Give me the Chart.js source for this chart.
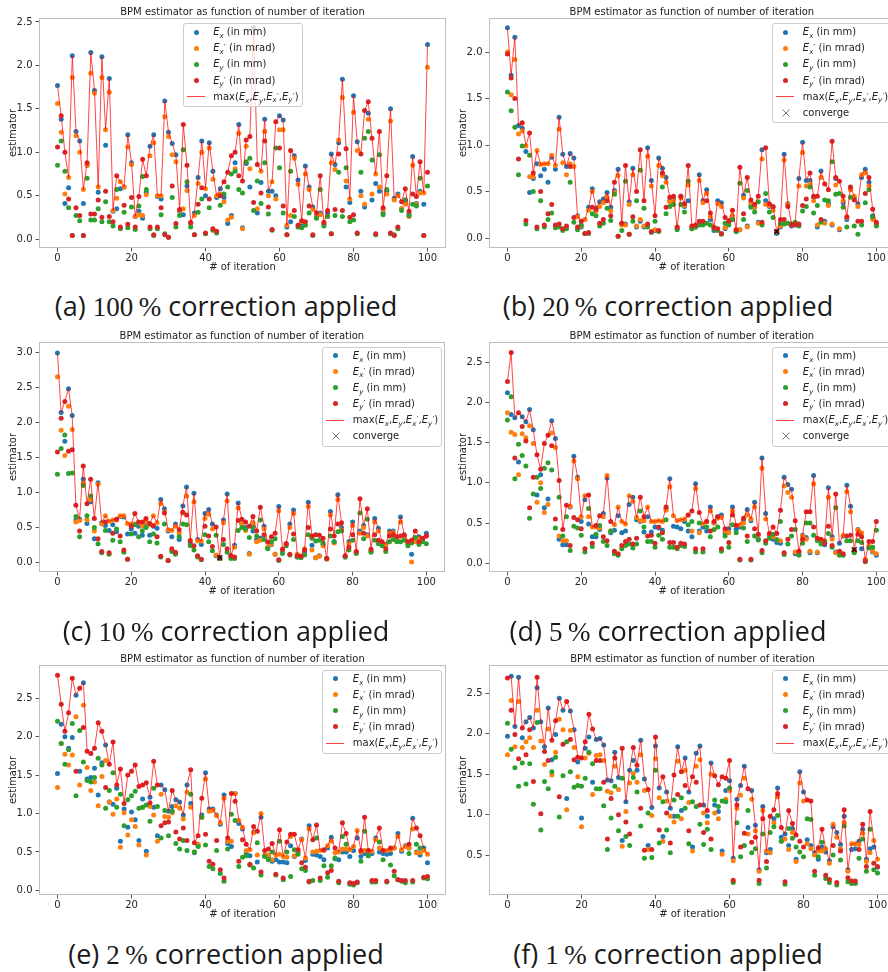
<!DOCTYPE html>
<html>
<head>
<meta charset="utf-8">
<script src="https://cdn.jsdelivr.net/npm/chart.js@4.4.1/dist/chart.umd.min.js"></script>
<style>
  html, body { margin: 0; padding: 0; background: #fff; width: 888px; height: 972px; overflow: hidden; }
  .painel { position: absolute; width: 450px; height: 280px; }
  .leg { position: absolute; width: 120px; box-sizing: border-box; border: 1px solid #cccccc; border-radius: 3px;
         background: rgba(255,255,255,0.8); font: 10px "DejaVu Sans"; color: #222; z-index: 2; }
  .linha { position: relative; height: 16.1px; }
  .ponto { position: absolute; left: 10.2px; top: 5.5px; width: 5px; height: 5px; border-radius: 50%; }
  .traco { position: absolute; left: 3px; top: 7.5px; width: 18px; height: 1px; background: rgba(255,0,0,0.75); }
  .cruz { position: absolute; left: 9.2px; top: 4px; }
  .txt { position: absolute; left: 29.5px; top: 0; line-height: 16.1px; white-space: nowrap; }
  .txt sub { font-size: 7px; vertical-align: -2.5px; line-height: 0; }
  .txt .pr { font-size: 8px; font-style: normal; position: relative; top: -2.5px; margin-left: 0.3px; }
  .cap { position: absolute; width: 440px; height: 36px; line-height: 36px; text-align: center; white-space: nowrap;
         font: 27px "Open Sans"; color: #1a1a1a; }
  .cap .num { font-family: "Liberation Serif"; }
</style>
</head>
<body>
<script>
// Iterações (eixo x) e marcas
const iteracoes = Array.from({ length: 101 }, (_, i) => i);
const marcasX = [0, 20, 40, 60, 80, 100];
const letras = ["a", "b", "c", "d", "e", "f"];
const percentuais = [100, 20, 10, 5, 2, 1];

// (a) 100 %
const ex_a = [1.77,1.38,0.41,0.59,2.11,1.24,1.13,0.41,0.85,2.15,1.71,0.54,2.10,1.08,1.85,0.32,0.35,0.58,0.60,1.20,0.88,0.26,0.32,0.24,0.54,1.07,1.20,0.49,0.46,1.59,1.23,1.10,0.97,0.32,0.28,0.61,0.18,0.30,0.71,1.13,0.50,1.11,0.78,0.48,0.58,0.48,0.18,0.27,0.88,1.32,0.13,0.87,0.60,2.44,0.30,0.65,1.38,0.55,0.55,0.50,1.42,1.37,0.14,0.20,0.96,0.68,0.18,0.84,0.60,0.37,0.26,0.30,0.17,0.30,0.98,0.86,1.11,1.84,0.60,0.42,1.65,1.12,0.55,0.37,1.45,0.45,0.64,0.55,0.30,0.55,1.50,0.47,0.52,0.35,0.45,0.29,0.95,0.41,0.55,0.40,2.24];
const exl_a = [1.56,1.23,0.52,0.71,1.86,1.19,1.00,0.57,0.85,1.91,1.68,0.60,1.86,1.26,1.69,0.33,0.47,0.66,0.60,1.06,0.86,0.26,0.28,0.27,0.51,0.96,1.11,0.50,0.50,1.41,1.18,0.97,0.89,0.33,0.35,0.56,0.18,0.27,0.64,1.00,0.58,1.05,0.69,0.50,0.52,0.43,0.22,0.25,0.81,1.22,0.12,1.07,0.81,2.20,0.35,0.78,1.24,0.50,0.66,0.46,1.26,1.26,0.16,0.27,0.93,0.63,0.20,0.75,0.57,0.34,0.25,0.28,0.19,0.26,0.88,0.80,1.14,1.63,0.67,0.46,1.46,1.02,0.50,0.40,1.38,0.52,0.75,0.60,0.34,0.52,1.36,0.45,0.50,0.35,0.40,0.26,0.85,0.40,0.53,0.53,1.98];
const ey_a = [0.85,1.13,0.78,0.36,0.04,0.27,0.21,0.04,0.70,0.22,0.22,0.35,0.20,0.43,0.20,0.15,0.57,0.12,0.31,0.13,0.37,0.11,0.38,0.72,0.57,0.12,0.04,0.12,0.28,0.06,0.02,0.48,0.14,0.27,1.03,0.66,0.14,0.05,0.31,0.46,0.06,0.36,0.10,0.07,0.39,0.52,0.60,0.75,0.78,0.57,0.53,0.89,0.93,0.33,0.67,0.41,0.88,0.29,0.10,1.05,0.82,0.30,0.05,0.78,0.26,0.14,0.13,0.16,0.30,0.04,0.24,0.57,0.15,0.26,0.06,0.27,0.77,0.26,0.82,0.20,0.22,0.06,0.77,1.16,1.24,0.91,0.05,0.97,0.28,0.57,0.06,0.05,0.12,0.33,0.45,0.27,0.40,0.38,0.70,0.04,0.61];
const eyl_a = [1.06,1.42,1.00,0.46,0.04,0.36,0.27,0.04,0.88,0.29,0.29,0.45,0.25,0.55,0.26,0.20,0.73,0.14,0.39,0.17,0.48,0.14,0.49,0.92,0.73,0.14,0.05,0.14,0.36,0.05,0.02,0.61,0.18,0.34,1.32,0.85,0.19,0.05,0.40,0.59,0.07,0.46,0.12,0.09,0.50,0.66,0.77,0.96,1.00,0.73,0.67,1.14,1.18,0.42,0.86,0.53,1.13,0.37,0.11,1.35,1.05,0.38,0.05,1.02,0.33,0.16,0.21,0.20,0.38,0.05,0.30,0.73,0.19,0.33,0.06,0.34,0.98,0.33,1.04,0.25,0.28,0.07,0.98,1.48,1.58,1.16,0.06,1.24,0.36,0.73,0.07,0.04,0.14,0.43,0.58,0.32,0.52,0.49,0.89,0.04,0.77];

// (b) 20 %
const ex_b = [2.26,1.75,2.16,1.21,1.18,0.93,0.49,0.64,0.80,0.67,0.74,0.60,0.87,0.74,1.30,0.90,0.77,0.91,0.86,0.24,0.12,0.20,0.33,0.53,0.32,0.39,0.42,0.49,0.33,0.51,0.74,0.15,0.15,0.39,0.75,0.12,0.18,0.12,0.97,0.62,0.08,0.86,0.75,0.65,0.40,0.42,0.10,0.45,0.34,0.40,0.11,0.12,0.68,0.40,0.52,0.20,0.08,0.40,0.38,0.10,0.17,0.20,0.07,0.09,0.46,0.13,0.35,0.33,0.17,0.95,0.40,0.34,0.33,0.05,0.12,0.90,0.37,0.13,0.16,0.64,1.03,0.62,0.62,0.44,0.12,0.72,0.18,0.37,0.14,0.64,0.09,0.38,0.20,0.53,0.43,0.37,0.65,0.74,0.60,0.24,0.15];
const exl_b = [2.00,1.54,1.92,1.12,1.15,0.99,0.66,0.66,0.94,0.79,0.80,0.80,0.89,0.78,1.17,0.81,0.68,0.80,0.77,0.23,0.13,0.20,0.30,0.50,0.29,0.34,0.38,0.44,0.29,0.49,0.67,0.14,0.14,0.36,0.68,0.13,0.20,0.13,0.88,0.56,0.09,0.78,0.67,0.60,0.39,0.40,0.11,0.43,0.35,0.57,0.10,0.13,0.62,0.38,0.48,0.23,0.12,0.37,0.34,0.11,0.19,0.24,0.08,0.09,0.43,0.12,0.38,0.33,0.16,0.85,0.36,0.35,0.30,0.07,0.13,0.84,0.36,0.15,0.16,0.56,0.92,0.56,0.58,0.40,0.14,0.65,0.16,0.35,0.15,0.57,0.10,0.40,0.22,0.52,0.45,0.34,0.68,0.70,0.56,0.20,0.14];
const ey_b = [1.57,1.37,1.19,0.68,0.99,0.15,0.89,0.50,0.10,0.40,0.12,0.20,0.27,0.11,0.12,0.08,0.10,0.60,0.17,0.09,0.14,0.05,0.05,0.26,0.24,0.13,0.16,0.32,0.19,0.47,0.02,0.08,0.61,0.04,0.18,0.40,0.73,0.32,0.12,0.06,0.18,0.07,0.55,0.26,0.34,0.36,0.09,0.36,0.28,0.61,0.10,0.12,0.14,0.14,0.16,0.14,0.10,0.08,0.04,0.16,0.14,0.20,0.07,0.59,0.20,0.51,0.33,0.28,0.39,0.14,0.48,0.28,0.22,0.06,0.16,0.15,0.16,0.15,0.17,0.13,0.29,0.34,0.55,0.27,0.35,0.17,0.41,0.40,0.82,0.47,0.48,0.33,0.12,0.44,0.13,0.04,0.14,0.38,0.52,0.23,0.13];
const eyl_b = [1.98,1.72,1.50,0.85,1.24,0.19,1.13,0.70,0.12,0.50,0.14,0.26,0.36,0.14,0.15,0.10,0.13,0.77,0.22,0.12,0.18,0.05,0.06,0.33,0.31,0.16,0.20,0.40,0.24,0.60,0.02,0.16,0.78,0.04,0.23,0.50,0.95,0.40,0.15,0.07,0.24,0.08,0.70,0.33,0.44,0.45,0.12,0.45,0.37,0.78,0.13,0.14,0.18,0.18,0.40,0.27,0.11,0.10,0.05,0.22,0.18,0.30,0.09,0.76,0.26,0.65,0.41,0.36,0.45,0.17,0.97,0.37,0.34,0.07,0.20,0.20,0.34,0.14,0.14,0.15,0.35,0.42,0.70,0.45,0.45,0.20,0.58,0.52,1.04,0.65,0.61,0.45,0.23,0.55,0.41,0.18,0.18,0.48,0.65,0.31,0.17];

// (c) 10 %
const ex_c = [2.99,2.14,1.73,2.48,2.10,0.61,0.62,1.19,0.56,0.87,0.34,1.14,0.57,0.53,0.46,0.54,0.44,0.66,0.65,0.41,0.48,0.42,0.52,0.39,0.52,0.39,0.52,0.49,0.90,0.77,0.45,0.37,0.55,0.33,0.81,1.08,0.27,0.99,0.33,0.26,0.70,0.76,0.55,0.10,0.07,0.61,0.98,0.10,0.25,0.85,0.55,0.50,0.13,0.45,0.33,0.35,0.52,0.21,0.26,0.12,0.80,0.18,0.27,0.55,0.75,0.08,0.08,0.16,0.86,0.25,0.07,0.10,0.26,0.06,0.73,0.30,0.97,0.50,0.08,0.30,0.58,0.14,0.45,0.53,0.40,0.16,0.63,0.49,0.28,0.26,0.45,0.45,0.33,0.65,0.38,0.27,0.12,0.33,0.37,0.33,0.42];
const exl_c = [2.65,1.89,1.53,2.23,1.90,0.58,0.60,1.13,0.61,0.90,0.45,1.12,0.55,0.67,0.59,0.61,0.61,0.67,0.67,0.56,0.55,0.55,0.57,0.52,0.58,0.54,0.67,0.57,0.84,0.72,0.47,0.46,0.52,0.42,0.71,0.95,0.32,0.87,0.31,0.31,0.63,0.69,0.48,0.11,0.06,0.57,0.88,0.09,0.22,0.78,0.55,0.46,0.12,0.57,0.30,0.32,0.48,0.22,0.27,0.12,0.74,0.17,0.26,0.50,0.70,0.12,0.08,0.20,0.80,0.18,0.07,0.09,0.24,0.05,0.68,0.28,0.90,0.47,0.09,0.27,0.53,0.15,0.42,0.50,0.38,0.17,0.58,0.45,0.26,0.25,0.42,0.43,0.31,0.58,0.36,0.28,0.01,0.30,0.34,0.31,0.38];
const ey_c = [1.26,1.63,1.82,1.27,1.28,0.66,0.37,1.10,0.67,0.95,0.50,0.27,0.14,0.46,0.12,0.32,0.48,0.30,0.15,0.05,0.41,0.54,0.37,0.45,0.50,0.30,0.41,0.28,0.08,0.55,0.03,0.16,0.12,0.37,0.55,0.54,0.24,0.18,0.08,0.04,0.40,0.30,0.17,0.39,0.06,0.26,0.15,0.06,0.06,0.46,0.50,0.48,0.36,0.51,0.38,0.61,0.33,0.20,0.30,0.34,0.03,0.13,0.24,0.11,0.33,0.08,0.07,0.11,0.40,0.35,0.31,0.32,0.28,0.06,0.38,0.30,0.44,0.45,0.08,0.18,0.32,0.13,0.71,0.34,0.62,0.15,0.32,0.27,0.24,0.16,0.30,0.33,0.30,0.30,0.32,0.24,0.28,0.36,0.26,0.30,0.27];
const eyl_c = [1.58,2.06,2.30,1.59,1.61,0.82,0.45,1.38,0.84,1.19,0.63,0.34,0.16,0.58,0.14,0.42,0.62,0.38,0.18,0.05,0.52,0.70,0.58,0.58,0.63,0.56,0.53,0.37,0.09,0.71,0.03,0.20,0.15,0.47,0.72,0.68,0.31,0.24,0.10,0.05,0.52,0.38,0.23,0.51,0.07,0.33,0.20,0.10,0.08,0.60,0.62,0.58,0.52,0.66,0.45,0.79,0.40,0.29,0.37,0.42,0.04,0.19,0.27,0.12,0.41,0.10,0.09,0.18,0.50,0.38,0.40,0.39,0.35,0.06,0.48,0.38,0.55,0.57,0.10,0.22,0.40,0.16,0.91,0.42,0.77,0.19,0.40,0.32,0.30,0.20,0.38,0.40,0.37,0.38,0.40,0.30,0.32,0.45,0.30,0.35,0.38];

// (d) 5 %
const ex_d = [2.12,1.85,1.81,1.26,1.82,1.76,1.91,1.66,0.85,1.10,0.69,0.80,1.77,1.55,0.30,0.23,0.23,0.70,1.33,1.07,0.52,0.79,0.49,0.33,0.33,0.42,0.62,1.06,0.38,0.41,0.59,0.38,0.40,0.73,0.82,0.54,0.52,0.39,0.58,0.39,0.45,0.44,0.41,0.68,1.05,0.46,0.45,0.43,0.52,0.40,0.33,0.99,0.40,0.45,0.40,0.70,0.50,0.58,0.60,0.38,0.43,0.70,0.42,0.45,0.54,0.67,0.53,0.76,0.30,1.31,0.62,0.33,0.30,0.26,0.25,1.07,0.98,0.92,0.12,0.12,0.35,0.32,0.13,1.09,0.13,0.28,0.23,0.94,0.33,0.14,0.25,0.34,0.97,0.71,0.15,0.42,0.18,0.04,0.20,0.14,0.10];
const exl_d = [1.87,1.63,1.60,1.10,1.61,1.56,1.71,1.49,0.76,1.00,0.63,0.73,1.62,1.44,0.34,0.28,0.28,0.71,1.27,1.05,0.58,0.84,0.58,0.45,0.45,0.44,0.58,1.09,0.40,0.48,0.70,0.52,0.49,0.84,0.77,0.57,0.53,0.53,0.70,0.52,0.52,0.53,0.52,0.66,0.95,0.59,0.53,0.54,0.55,0.60,0.40,0.93,0.38,0.49,0.52,0.65,0.50,0.56,0.57,0.40,0.38,0.65,0.47,0.48,0.50,0.60,0.55,0.70,0.35,1.18,0.55,0.35,0.33,0.30,0.28,0.96,0.88,0.82,0.14,0.14,0.34,0.30,0.15,0.99,0.14,0.29,0.28,0.82,0.30,0.13,0.12,0.35,0.89,0.64,0.16,0.41,0.38,0.05,0.22,0.15,0.12];
const ey_d = [1.78,2.07,1.05,1.48,1.34,1.21,0.56,0.86,1.07,0.93,1.18,1.25,1.16,0.44,0.82,0.34,0.58,0.16,0.46,0.44,0.35,0.14,0.68,0.21,0.36,0.47,0.27,0.22,0.40,0.12,0.10,0.18,0.22,0.24,0.19,0.24,0.65,0.45,0.27,0.27,0.20,0.35,0.30,0.54,0.20,0.20,0.18,0.22,0.21,0.48,0.52,0.14,0.50,0.14,0.45,0.33,0.42,0.45,0.15,0.34,0.20,0.48,0.38,0.04,0.44,0.27,0.04,0.34,0.29,0.13,0.25,0.31,0.36,0.29,0.52,0.11,0.24,0.34,0.42,0.10,0.25,0.50,0.50,0.35,0.28,0.24,0.27,0.37,0.20,0.69,0.10,0.10,0.28,0.28,0.13,0.28,0.26,0.02,0.19,0.20,0.41];
const eyl_d = [2.26,2.62,1.31,1.87,1.70,1.52,0.69,1.07,1.35,1.17,1.49,1.59,1.46,0.55,1.03,0.42,0.72,0.22,0.57,0.54,0.43,0.18,0.85,0.25,0.47,0.59,0.33,0.28,0.52,0.15,0.12,0.22,0.27,0.30,0.24,0.31,0.82,0.58,0.34,0.35,0.25,0.45,0.38,0.70,0.26,0.26,0.20,0.25,0.24,0.60,0.65,0.18,0.63,0.18,0.52,0.40,0.52,0.58,0.18,0.43,0.26,0.60,0.47,0.05,0.56,0.34,0.05,0.43,0.36,0.16,0.28,0.37,0.45,0.37,0.66,0.13,0.30,0.42,0.53,0.15,0.30,0.64,0.64,0.45,0.31,0.30,0.25,0.46,0.22,0.86,0.15,0.12,0.34,0.35,0.17,0.36,0.33,0.03,0.27,0.27,0.52];

// (e) 2 %
const ex_e = [1.52,2.16,2.00,1.85,1.99,2.54,1.55,2.70,1.45,1.47,1.59,1.24,1.66,1.89,1.15,1.12,1.33,0.64,1.06,0.82,1.02,0.92,0.65,1.19,0.51,1.21,1.08,0.71,1.37,1.31,1.03,1.09,1.18,1.15,0.98,1.37,1.13,0.49,0.58,0.98,1.53,1.06,1.06,0.98,0.86,1.24,0.61,0.57,1.26,0.87,0.80,0.48,0.45,0.76,0.37,0.95,0.45,0.44,0.38,0.40,0.37,0.37,0.36,0.58,0.44,0.50,0.67,0.39,0.84,0.47,0.46,0.44,0.40,0.55,0.69,0.41,0.40,0.50,0.50,0.44,0.52,0.68,0.44,0.48,0.45,0.48,0.68,0.50,0.48,0.47,0.48,0.55,0.74,0.51,0.58,0.55,0.94,0.50,0.46,0.55,0.36];
const exl_e = [1.34,1.91,1.77,1.63,1.76,2.26,1.37,2.41,1.60,1.30,1.41,1.10,1.48,1.69,1.15,0.99,1.19,0.56,1.01,0.72,0.92,0.83,0.59,1.08,0.46,1.09,0.98,0.64,1.25,0.96,0.95,1.01,1.10,1.07,0.93,1.28,1.08,0.50,0.60,0.95,1.45,1.03,1.04,0.97,0.88,1.20,0.64,0.64,1.26,0.91,0.82,0.52,0.53,0.75,0.46,1.00,0.46,0.46,0.40,0.46,0.47,0.44,0.43,0.70,0.45,0.51,0.66,0.42,0.80,0.50,0.51,0.52,0.52,0.58,0.64,0.49,0.50,0.54,0.54,0.53,0.57,0.78,0.50,0.52,0.52,0.51,0.66,0.55,0.52,0.52,0.53,0.55,0.70,0.53,0.57,0.55,0.80,0.49,0.49,0.52,0.47];
const ey_e = [2.20,1.91,1.64,1.83,2.17,1.23,2.08,1.67,1.43,1.41,1.47,1.72,1.63,1.07,1.30,1.53,1.08,1.25,0.84,1.18,1.23,1.29,1.07,1.08,1.11,0.90,1.33,1.09,0.68,1.04,0.71,1.03,0.61,0.54,0.65,0.52,1.25,0.50,0.57,0.95,0.59,0.31,0.28,0.52,0.22,0.12,0.54,0.99,0.91,0.31,0.43,0.45,0.33,0.29,0.62,0.20,0.44,0.40,0.50,0.20,0.64,0.14,0.50,0.18,0.53,0.47,0.28,0.26,0.11,0.13,0.68,0.13,0.32,0.17,0.32,0.42,0.10,0.70,0.60,0.08,0.07,0.10,0.38,0.77,0.45,0.11,0.11,0.63,0.40,0.11,0.33,0.19,0.14,0.12,0.10,0.48,0.11,0.60,0.55,0.16,0.15];
const eyl_e = [2.80,2.42,2.07,2.31,2.76,1.55,2.63,2.12,1.81,1.78,1.85,2.18,2.07,1.34,1.64,1.93,1.37,1.58,1.13,1.50,1.55,1.63,1.35,1.37,1.40,1.14,1.68,1.37,0.84,0.88,0.89,1.30,0.76,0.67,0.81,0.65,1.57,0.62,0.71,1.20,0.73,0.38,0.34,0.65,0.27,0.16,0.68,1.26,1.16,0.38,0.66,0.60,0.34,0.83,0.77,0.24,0.52,0.54,0.61,0.21,0.79,0.16,0.63,0.73,0.73,0.53,0.36,0.30,0.12,0.66,0.85,0.16,0.53,0.23,0.26,0.55,0.12,0.88,0.74,0.10,0.09,0.11,0.52,0.95,0.52,0.13,0.13,0.81,0.52,0.12,0.55,0.25,0.14,0.13,0.13,0.60,0.13,0.81,0.71,0.17,0.18];

// (f) 1 %
const ex_f = [1.97,2.71,2.09,2.70,1.95,2.15,2.20,2.07,2.57,2.15,1.84,2.32,1.68,1.99,2.44,2.29,1.20,2.28,2.05,1.65,0.96,1.82,1.96,1.40,1.93,1.94,1.86,1.43,1.42,1.77,1.46,0.68,1.16,1.55,1.67,1.55,1.92,1.44,0.62,1.09,1.85,1.33,0.73,1.28,1.08,0.98,1.84,1.05,1.70,1.28,0.60,1.76,1.85,1.12,0.98,1.64,1.12,1.04,0.55,1.30,1.42,0.46,1.19,1.36,1.60,0.84,1.30,0.87,0.32,1.10,0.53,0.57,0.95,1.33,0.72,0.76,0.62,0.83,0.45,1.53,1.28,0.69,0.62,0.53,0.45,0.60,0.54,0.43,0.85,0.78,0.63,0.98,0.32,0.57,0.58,0.67,0.82,0.45,0.58,0.60,0.35];
const exl_f = [1.74,2.41,1.84,2.40,1.83,1.90,1.95,1.83,2.29,1.91,1.62,2.06,1.49,1.77,2.18,2.05,1.06,2.04,1.83,1.47,0.85,1.70,1.76,1.25,1.73,1.74,1.67,1.29,1.27,1.60,1.31,0.61,1.04,1.39,1.51,1.40,1.74,1.30,0.57,0.99,1.69,1.21,0.67,1.17,0.98,0.91,1.66,0.95,1.55,1.15,0.55,1.60,1.68,1.02,0.90,1.50,1.02,0.95,0.51,1.19,1.30,0.43,1.08,1.24,1.45,0.76,1.19,0.80,0.30,1.05,0.55,0.53,0.90,1.22,0.67,0.70,0.57,0.78,0.42,1.39,1.17,0.64,0.58,0.50,0.55,0.55,0.58,0.40,0.88,0.72,0.58,0.90,0.30,0.64,0.64,0.63,0.77,0.42,0.53,0.68,0.45];
const ey_f = [2.13,1.81,1.58,1.35,1.64,1.38,1.63,1.13,2.14,0.81,1.41,1.32,1.53,1.71,0.97,1.48,1.90,1.53,1.34,1.36,1.35,1.45,1.77,1.63,1.32,1.32,1.11,0.57,0.96,1.35,0.80,1.45,0.73,0.62,1.46,1.28,0.86,0.46,1.02,0.47,1.55,0.65,1.16,0.81,0.53,1.18,0.98,1.21,1.08,0.64,1.16,1.10,0.88,0.63,0.82,0.57,1.18,1.10,1.17,1.16,1.33,0.16,0.90,0.48,0.62,1.05,0.53,0.58,0.15,0.76,0.34,0.78,0.85,0.99,0.67,0.14,0.83,0.71,0.60,0.54,0.48,0.95,0.94,0.25,0.48,0.66,0.21,0.16,0.50,0.13,0.44,0.86,0.17,0.15,0.15,0.46,0.70,0.30,0.82,0.32,0.28];
const eyl_f = [2.69,2.29,1.99,1.69,2.07,1.74,2.05,1.41,2.70,1.01,1.78,1.67,1.92,2.16,1.22,1.87,2.40,1.93,1.68,1.71,1.70,1.90,2.24,2.06,1.67,1.67,1.40,0.70,1.20,1.70,1.00,1.82,0.91,0.76,1.83,1.61,1.08,0.56,1.31,0.57,1.96,0.81,1.47,1.02,0.65,1.49,1.25,1.53,1.36,0.80,1.47,1.40,1.12,0.78,1.05,0.70,1.48,1.37,1.47,1.45,1.67,0.19,1.12,0.60,0.77,1.32,0.66,0.72,0.19,0.95,0.42,0.98,1.06,1.26,0.84,0.17,1.05,0.89,0.75,0.67,0.60,1.18,1.17,0.30,0.59,0.82,0.25,0.20,0.62,0.16,0.55,1.06,0.22,0.18,0.18,0.57,0.88,0.36,1.04,0.40,0.36];

// Iteração marcada como "converge" (quando existe)
const converge = { b: 73, c: 44, d: 94 };

// Cores padrão do matplotlib
const cores = { azul: "#1f77b4", laranja: "#ff7f0e", verde: "#2ca02c", vermelho: "#d62728", max: "rgba(255,0,0,0.72)" };

// Limites do eixo y e posição de cada painel
const paineis = [
  { id: "a", ex: ex_a, exl: exl_a, ey: ey_a, eyl: eyl_a, yMin: -0.103, yMax: 2.546, left: 0, top: 0, legX: 182.7, legY: 23.3 },
  { id: "b", ex: ex_b, exl: exl_b, ey: ey_b, eyl: eyl_b, yMin: -0.107, yMax: 2.366, left: 449.7, top: 0, legX: 772.3, legY: 23.3 },
  { id: "c", ex: ex_c, exl: exl_c, ey: ey_c, eyl: eyl_c, yMin: -0.133, yMax: 3.147, left: 0, top: 324, legX: 322.3, legY: 346.7 },
  { id: "d", ex: ex_d, exl: exl_d, ey: ey_d, eyl: eyl_d, yMin: -0.108, yMax: 2.75, left: 449.7, top: 324, legX: 772.3, legY: 346.7 },
  { id: "e", ex: ex_e, exl: exl_e, ey: ey_e, eyl: eyl_e, yMin: -0.06, yMax: 2.932, left: 0, top: 647, legX: 322.3, legY: 669.7 },
  { id: "f", ex: ex_f, exl: exl_f, ey: ey_f, eyl: eyl_f, yMin: 0.007, yMax: 2.85, left: 449.7, top: 647, legX: 772.3, legY: 669.7 }
];

Chart.defaults.font.family = "DejaVu Sans";
Chart.defaults.font.size = 10;
Chart.defaults.color = "#262626";

const pontos = (arr) => arr.map((v, i) => ({ x: iteracoes[i], y: v }));

// Moldura completa em volta da área do gráfico
const moldura = {
  id: "moldura",
  afterDraw(chart) {
    const { ctx, chartArea: a } = chart;
    ctx.save();
    ctx.strokeStyle = "#bdbdbd";
    ctx.lineWidth = 1;
    ctx.strokeRect(Math.round(a.left) + 0.5, Math.round(a.top) + 0.5, Math.round(a.right - a.left) - 1, Math.round(a.bottom - a.top) - 1);
    ctx.restore();
  }
};

// E com índice (x, y, x', y')
const sub = (t) => `<i>E</i><sub><i>${t[0]}</i>${t.length > 1 ? '<span class="pr">′</span>' : ""}</sub>`;

function criarLegenda(p, temConverge) {
  const leg = document.createElement("div");
  leg.className = "leg";
  leg.style.left = p.legX + "px";
  leg.style.top = p.legY + "px";
  const linhas = [
    ["ponto", cores.azul, `${sub("x")} (in mm)`],
    ["ponto", cores.laranja, `${sub("x'")} (in mrad)`],
    ["ponto", cores.verde, `${sub("y")} (in mm)`],
    ["ponto", cores.vermelho, `${sub("y'")} (in mrad)`],
    ["traco", null, `max(${sub("x")},${sub("y")},${sub("x'")},${sub("y'")})`]
  ];
  if (temConverge) linhas.push(["cruz", null, "converge"]);
  leg.innerHTML = linhas.map(([tipo, cor, txt]) => {
    let marca = "";
    if (tipo === "ponto") marca = `<span class="ponto" style="background:${cor}"></span>`;
    if (tipo === "traco") marca = `<span class="traco"></span>`;
    if (tipo === "cruz") marca = `<svg class="cruz" width="8" height="8"><path d="M0.5 0.5L7.5 7.5M7.5 0.5L0.5 7.5" stroke="#777" stroke-width="1"/></svg>`;
    return `<div class="linha">${marca}<span class="txt">${txt}</span></div>`;
  }).join("");
  leg.style.height = (linhas.length * 16.1 + 3.5) + "px";
  document.body.appendChild(leg);
}

function criarGrafico(p) {
  const caixa = document.createElement("div");
  caixa.className = "painel";
  caixa.style.left = p.left + "px";
  caixa.style.top = p.top + "px";
  const canvas = document.createElement("canvas");
  canvas.width = 450;
  canvas.height = 280;
  caixa.appendChild(canvas);
  document.body.appendChild(caixa);

  const maximo = iteracoes.map((i) => Math.max(p.ex[i], p.exl[i], p.ey[i], p.eyl[i]));
  const serie = (dados, cor, ordem) => ({ data: pontos(dados), backgroundColor: cor, borderWidth: 0, pointRadius: 2.5, order: ordem });

  const datasets = [
    serie(p.ex, cores.azul, 6),
    serie(p.exl, cores.laranja, 5),
    serie(p.ey, cores.verde, 4),
    serie(p.eyl, cores.vermelho, 3),
    { data: pontos(maximo), showLine: true, borderColor: cores.max, borderWidth: 1, pointRadius: 0, order: 2 }
  ];
  const k = converge[p.id];
  if (k !== undefined) {
    datasets.push({ data: [{ x: iteracoes[k], y: maximo[k] }], pointStyle: "crossRot", pointRadius: 3.5,
      borderColor: "#111", borderWidth: 1.2, order: 1 });
  }

  new Chart(canvas.getContext("2d"), {
    type: "scatter",
    data: { datasets },
    options: {
      responsive: false,
      animation: false,
      events: [],
      layout: { padding: { left: 0, right: 2.5, top: 0, bottom: 0 } },
      plugins: {
        legend: { display: false },
        tooltip: { enabled: false },
        title: { display: true, text: "BPM estimator as function of number of iteration", fullSize: false,
          padding: { top: 6, bottom: 0 }, font: { size: 10, weight: "normal" }, color: "#1a1a1a" }
      },
      scales: {
        x: {
          type: "linear", min: -5, max: 105,
          afterBuildTicks: (s) => { s.ticks = marcasX.map((v) => ({ value: v })); },
          afterFit: (s) => { s.height = 32; },
          ticks: { padding: 1, maxRotation: 0 },
          grid: { drawOnChartArea: false, tickLength: 3.5, color: "#555" },
          border: { display: false },
          title: { display: true, text: "# of iteration", padding: { top: 0, bottom: 7 } }
        },
        y: {
          type: "linear", min: p.yMin, max: p.yMax,
          afterFit: (s) => { s.width = 39; },
          ticks: { stepSize: 0.5, includeBounds: false, padding: 3, callback: (v) => v.toFixed(1) },
          grid: { drawOnChartArea: false, tickLength: 3.5, color: "#555" },
          border: { display: false },
          title: { display: true, text: "estimator", padding: { top: 7, bottom: 0 } }
        }
      }
    },
    plugins: [moldura]
  });

  criarLegenda(p, k !== undefined);
}

paineis.forEach(criarGrafico);

// Legendas das figuras
const centrosX = [226, 668];
const centrosY = [305, 630, 953];
letras.forEach((l, i) => {
  const cap = document.createElement("div");
  cap.className = "cap";
  cap.style.left = (centrosX[i % 2] - 220) + "px";
  cap.style.top = (centrosY[Math.floor(i / 2)] - 18) + "px";
  cap.innerHTML = `(${l}) <span class="num">${percentuais[i]}\u2009%</span> correction applied`;
  document.body.appendChild(cap);
});
</script>
</body>
</html>
